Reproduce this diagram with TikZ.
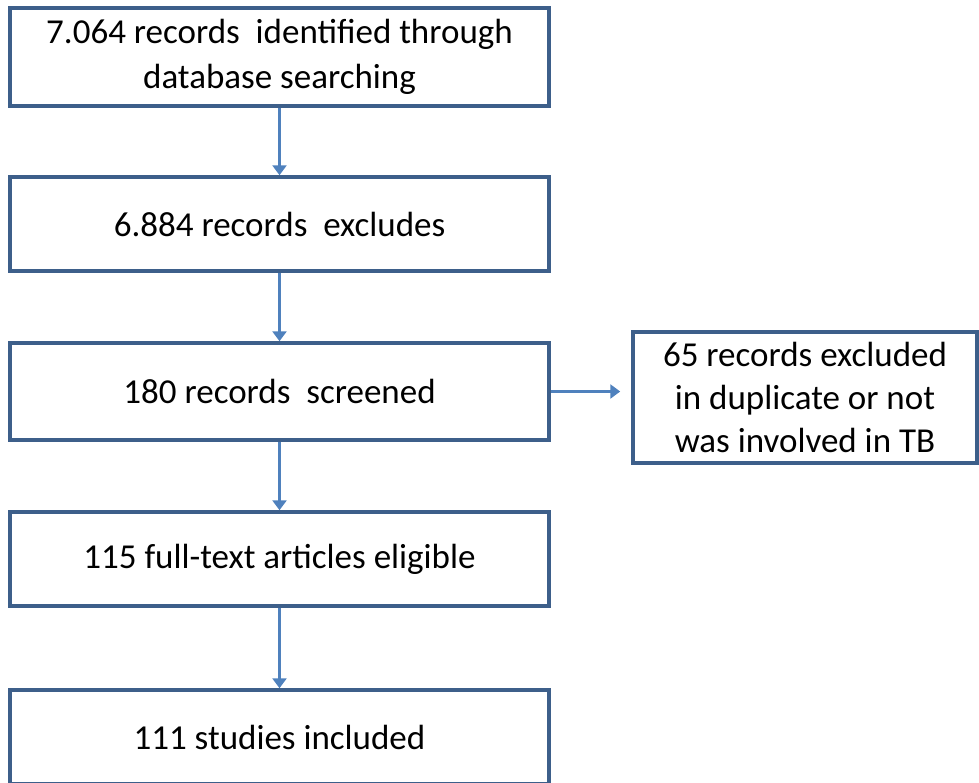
\documentclass[tikz,border=0pt]{standalone}
\usepackage{fontspec}
\setmainfont{Carlito}
\usetikzlibrary{arrows.meta}
\begin{document}
\begin{tikzpicture}[x=1pt, y=-1pt]
		\tikzset{bx/.style={rectangle, draw=boxline, line width=3.5pt, minimum width=539pt, minimum height=95pt, inner sep=0pt, align=center, font=\fontsize{35}{45}\selectfont}};
		\tikzset{ar/.style={draw=arrowblue, line width=3pt, -{Triangle[width=14pt, length=10pt]}}};
		\definecolor{boxline}{HTML}{3D5F8A}
		\definecolor{arrowblue}{HTML}{4F81BD}

		\useasboundingbox (0, 0) rectangle (979, 782);

		\node[bx, minimum height=98pt] (id) at (279.5, 57) {7.064 records\ \ identified through\\database searching};
		\node[bx, minimum height=94pt] (ex) at (279.5, 224) {6.884 records\ \ excludes};
		\node[bx, minimum height=97pt] (sc) at (279.5, 391.5) {180 records\ \ screened};
		\node[bx, minimum height=94pt] (el) at (279.5, 559) {115 full-text articles eligible};
		\node[bx, minimum height=94pt] (in) at (279.5, 737) {111 studies included};
		\node[bx, minimum width=344pt, minimum height=131pt, font=\fontsize{35}{43}\selectfont] (du) at (805, 397.5) {65 records excluded\\in duplicate or not\\was involved in TB};

		\draw[ar] (id) to (ex);
		\draw[ar] (ex) to (sc);
		\draw[ar] (sc) to (el);
		\draw[ar] (el) to (in);

		\draw[ar, shorten >=11pt] (sc.east) to (du.west |- sc.east);

	\end{tikzpicture}
\end{document}
